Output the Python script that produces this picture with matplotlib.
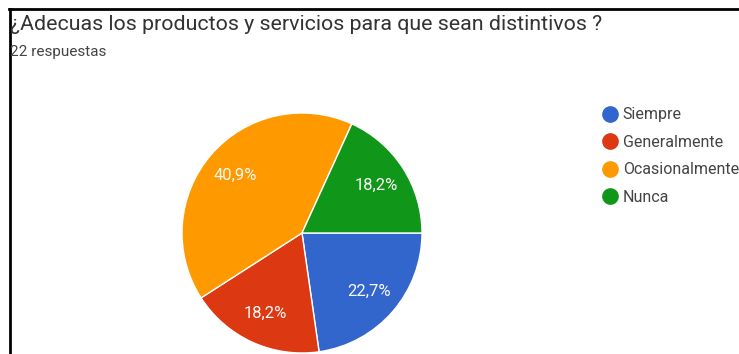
import matplotlib.pyplot as plt
from matplotlib.lines import Line2D

# datos
categorias = ['Siempre', 'Generalmente', 'Ocasionalmente', 'Nunca']
respuestas = [5, 4, 9, 4]
colores = ['#3366cc', '#dc3912', '#ff9900', '#109618']
titulo = '¿Adecuas los productos y servicios para que sean distintivos ?'
subtitulo = '22 respuestas'

plt.rcParams['font.family'] = ['Roboto', 'DejaVu Sans']

W, H = 739, 354
fig = plt.figure(figsize=(W / 100, H / 100), dpi=100)

# pie: centro (302, 233) px, radio 120 px
cx, cy, r = 302, 233, 120
ax = fig.add_axes([(cx - r) / W, (H - cy - r) / H, 2 * r / W, 2 * r / H])

def fmt(p):
    return f'{p:.1f}%'.replace('.', ',')

wedges, texts, autotexts = ax.pie(
    respuestas, colors=colores, startangle=0, counterclock=False,
    autopct=fmt, pctdistance=0.74, radius=1,
    wedgeprops=dict(edgecolor='white', linewidth=1),
    textprops=dict(color='#f8f8f8', fontsize=12))
ax.set_xlim(-1, 1)
ax.set_ylim(-1, 1)
ax.set_aspect('equal')
ax.axis('off')

fig.text(10 / W, 1 - 30 / H, titulo, fontsize=15.4, color='#333333', va='baseline')
fig.text(10 / W, 1 - 56 / H, subtitulo, fontsize=11, color='#444444', va='baseline')

handles = [Line2D([], [], marker='o', linestyle='', markersize=11,
                  markerfacecolor=c, markeredgecolor=c) for c in colores]
fig.legend(handles, categorias, loc='upper left',
           bbox_to_anchor=(594 / W, 1 - 101 / H), frameon=False,
           fontsize=11.5, labelcolor='#444444', handletextpad=0.2,
           labelspacing=0.78, handlelength=1.2, borderaxespad=0)

# marco negro
fig.add_artist(Line2D([9 / W, 1], [1 - 9 / H, 1 - 9 / H],
                      transform=fig.transFigure, color='black', linewidth=2))
fig.add_artist(Line2D([10 / W, 10 / W], [0, 1 - 9 / H],
                      transform=fig.transFigure, color='black', linewidth=2))

fig.savefig('out.png', dpi=100)
